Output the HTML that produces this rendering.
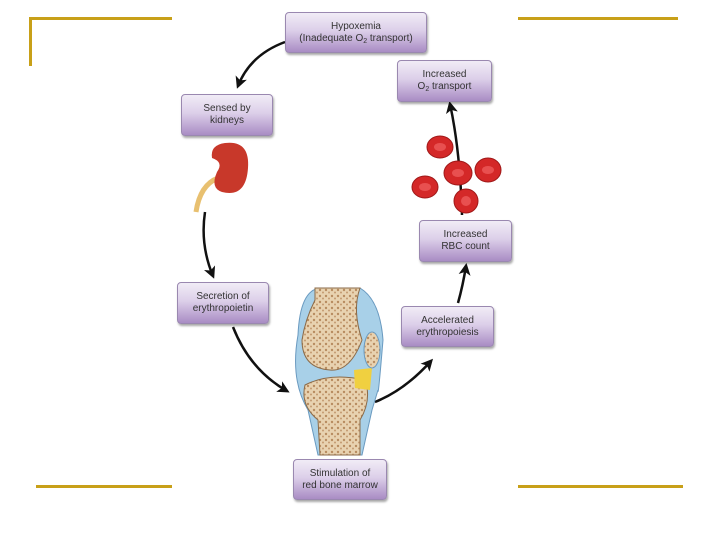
<!DOCTYPE html>
<html><head><meta charset="utf-8"><style>
body{margin:0;width:720px;height:540px;background:#fff;position:relative;overflow:hidden;font-family:"Liberation Sans",sans-serif}
.b{position:absolute;box-sizing:border-box;border:1px solid #9a88b0;border-radius:4px;background:linear-gradient(#f1ecf6 0%,#dccfe9 45%,#a98cc4 100%);box-shadow:1px 2px 2px rgba(0,0,0,.35);font-size:10px;line-height:12px;color:#333;text-align:center;display:flex;align-items:center;justify-content:center}
.b sub{font-size:7px;line-height:0;vertical-align:-2px}
.g{position:absolute;background:#c8a018}
</style></head><body>
<div class="g" style="left:30px;top:17px;width:142px;height:3px"></div>
<div class="g" style="left:29px;top:17px;width:3px;height:49px"></div>
<div class="g" style="left:518px;top:17px;width:160px;height:3px"></div>
<div class="g" style="left:36px;top:485px;width:136px;height:3px"></div>
<div class="g" style="left:518px;top:485px;width:165px;height:3px"></div>

<svg width="720" height="540" style="position:absolute;left:0;top:0">
<defs><marker id="a" markerWidth="12" markerHeight="12" refX="9" refY="6" orient="auto" markerUnits="userSpaceOnUse"><path d="M0,0 L12,6 L0,12 L3,6z" fill="#111"/></marker>
<pattern id="sp" width="6" height="6" patternUnits="userSpaceOnUse"><rect width="6" height="6" fill="#e8d2b0"/><circle cx="2" cy="2" r="1.2" fill="#b88c60"/><circle cx="5" cy="4.5" r="1" fill="#c49a70"/></pattern></defs>
<g fill="none" stroke="#111" stroke-width="2.5">
<path d="M285,42 Q250,55 238,86" marker-end="url(#a)"/>
<path d="M205,212 Q200,245 213,276" marker-end="url(#a)"/>
<path d="M233,327 Q250,370 287,391" marker-end="url(#a)"/>
<path d="M375,402 Q405,390 431,361" marker-end="url(#a)"/>
<path d="M458,303 Q463,285 466,266" marker-end="url(#a)"/>
<path d="M462,215 Q460,150 450,104" marker-end="url(#a)"/>
</g>
<!-- kidney -->
<path d="M196,212 Q200,185 218,178" stroke="#e8c070" stroke-width="5" fill="none"/>
<path d="M225,143 Q250,140 248,168 Q246,198 222,192 Q210,188 217,172 Q224,162 212,158 Q210,145 225,143z" fill="#c8382a"/>
<!-- RBCs -->
<g fill="#d42828" stroke="#a01818">
<ellipse cx="440" cy="147" rx="13" ry="11"/><ellipse cx="458" cy="173" rx="14" ry="12"/>
<ellipse cx="488" cy="170" rx="13" ry="12"/><ellipse cx="425" cy="187" rx="13" ry="11"/>
<ellipse cx="466" cy="201" rx="12" ry="12"/></g>
<g fill="#e85050"><ellipse cx="440" cy="147" rx="6" ry="4"/><ellipse cx="458" cy="173" rx="6" ry="4"/><ellipse cx="488" cy="170" rx="6" ry="4"/><ellipse cx="425" cy="187" rx="6" ry="4"/><ellipse cx="466" cy="201" rx="5" ry="5"/></g>
<!-- bone -->
<path d="M298,335 Q300,290 320,288 L360,288 Q380,300 383,340 Q378,400 378,390 L372,410 L362,455 L318,455 L308,410 Q290,380 298,335z" fill="#a8d0e8" stroke="#6a9ac0"/>
<path d="M315,288 L360,288 Q352,310 362,340 Q350,372 330,370 Q302,368 302,340 Q305,320 315,300z" fill="url(#sp)" stroke="#8a6a48"/>
<path d="M305,385 Q330,372 365,380 Q372,400 360,420 L360,455 L320,455 L318,420 Q300,405 305,385z" fill="url(#sp)" stroke="#8a6a48"/>
<path d="M354,370 L372,368 L370,390 L355,388z" fill="#f0d040"/>
<ellipse cx="372" cy="350" rx="8" ry="18" fill="url(#sp)" stroke="#6a9ac0"/>
</svg>

<div class="b" style="left:285px;top:12px;width:142px;height:41px"><span>Hypoxemia<br>(Inadequate O<sub>2</sub> transport)</span></div>
<div class="b" style="left:397px;top:60px;width:95px;height:42px"><span>Increased<br>O<sub>2</sub> transport</span></div>
<div class="b" style="left:181px;top:94px;width:92px;height:42px"><span>Sensed by<br>kidneys</span></div>
<div class="b" style="left:419px;top:220px;width:93px;height:42px"><span>Increased<br>RBC count</span></div>
<div class="b" style="left:177px;top:282px;width:92px;height:42px"><span>Secretion of<br>erythropoietin</span></div>
<div class="b" style="left:401px;top:306px;width:93px;height:41px"><span>Accelerated<br>erythropoiesis</span></div>
<div class="b" style="left:293px;top:459px;width:94px;height:41px"><span>Stimulation of<br>red bone marrow</span></div>
</body></html>
